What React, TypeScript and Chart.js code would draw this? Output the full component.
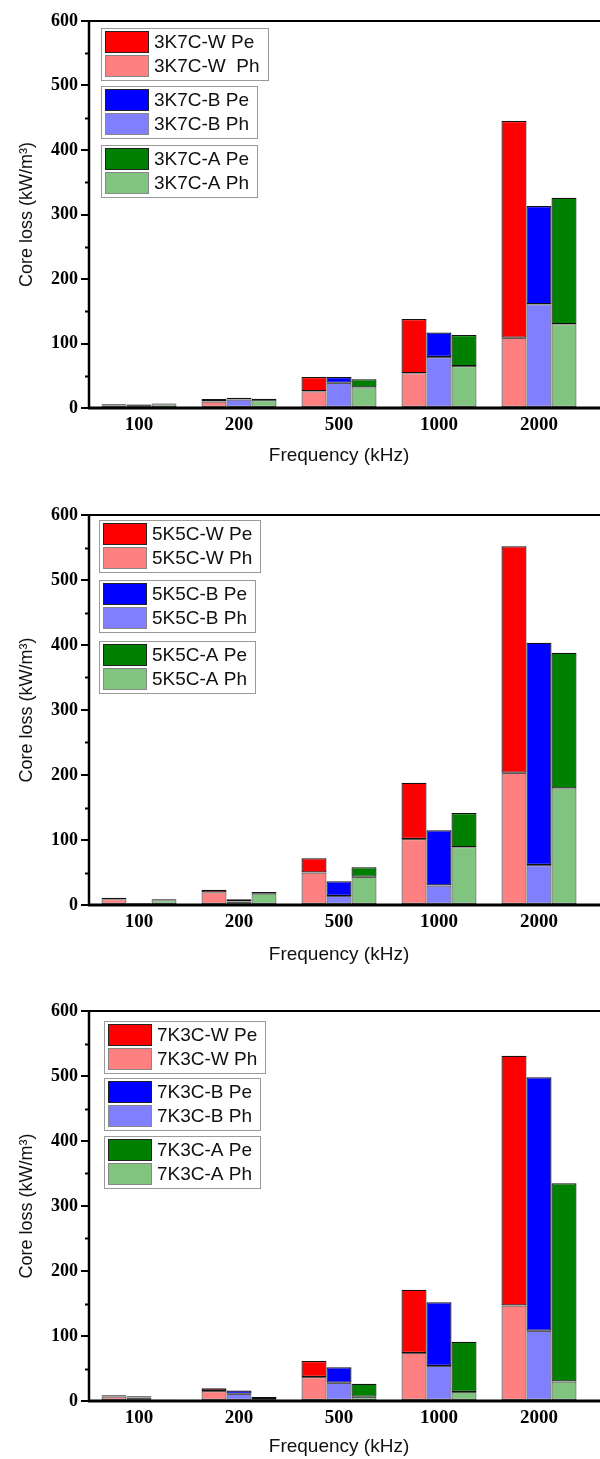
import React, { useEffect, useRef } from 'react';
import { Chart, registerables } from 'chart.js';

Chart.register(...registerables);

// ---------- data ----------
const categories = ['100', '200', '500', '1000', '2000'];
const xTitle = 'Frequency (kHz)';
const yTitle = 'Core loss (kW/m³)';
const yMin = 0;
const yMax = 600;
const yStep = 100;

// Panel 1: 3K7C
const p1Labels = ['3K7C-W Pe', '3K7C-W  Ph', '3K7C-B Pe', '3K7C-B Ph', '3K7C-A Pe', '3K7C-A Ph'];
const p1W_Ph = [4, 10, 26, 54, 109];
const p1W_Pe = [2, 4, 22, 84, 336];
const p1B_Ph = [5, 13, 39, 79, 161];
const p1B_Pe = [1, 3, 9, 38, 152];
const p1A_Ph = [6, 12.5, 32, 65, 130];
const p1A_Pe = [1, 2, 12.5, 48, 196];

// Panel 2: 5K5C
const p2Labels = ['5K5C-W Pe', '5K5C-W Ph', '5K5C-B Pe', '5K5C-B Ph', '5K5C-A Pe', '5K5C-A Ph'];
const p2W_Ph = [9, 19.5, 50, 101.5, 203.5];
const p2W_Pe = [2, 4, 22, 86.5, 348.5];
const p2B_Ph = [2, 5.5, 14, 30, 61.5];
const p2B_Pe = [1, 3.5, 22.5, 85, 342];
const p2A_Ph = [7.5, 17.5, 43.5, 89, 179.5];
const p2A_Pe = [1.5, 2.5, 14.5, 52.5, 208.5];

// Panel 3: 7K3C
const p3Labels = ['7K3C-W Pe', '7K3C-W Ph', '7K3C-B Pe', '7K3C-B Ph', '7K3C-A Pe', '7K3C-A Ph'];
const p3W_Ph = [7, 15.5, 37, 74, 147];
const p3W_Pe = [2, 4, 24.5, 97, 384];
const p3B_Ph = [5.5, 11, 28, 54, 108];
const p3B_Pe = [2, 5, 24, 98, 390];
const p3A_Ph = [1, 3, 6.5, 14, 30];
const p3A_Pe = [1, 3, 20, 77, 305];

// ---------- styles ----------
const COLORS = {
  wPe: '#FF0000', wPh: '#FF8080',
  bPe: '#0000FF', bPh: '#8080FF',
  aPe: '#008000', aPh: '#80C480',
};

const TICK_FONT = 'Liberation Serif';
const SANS = 'Liberation Sans';
const X_TITLE_SIZE = 19;
const LEGEND_SIZE = 19;

type PanelCfg = {
  labels: string[];
  wPh: number[]; wPe: number[];
  bPh: number[]; bPe: number[];
  aPh: number[]; aPe: number[];
  top: number; height: number;
  areaTop: number; areaBottom: number;
  titleCenter: number;
  legendLeft: number;
  legendTops: number[];
};

const panels: PanelCfg[] = [
  {
    labels: p1Labels, wPh: p1W_Ph, wPe: p1W_Pe, bPh: p1B_Ph, bPe: p1B_Pe, aPh: p1A_Ph, aPe: p1A_Pe,
    top: 0, height: 494, areaTop: 21, areaBottom: 408, titleCenter: 456,
    legendLeft: 101, legendTops: [7, 65, 124],
  },
  {
    labels: p2Labels, wPh: p2W_Ph, wPe: p2W_Pe, bPh: p2B_Ph, bPe: p2B_Pe, aPh: p2A_Ph, aPe: p2A_Pe,
    top: 494, height: 494, areaTop: 515, areaBottom: 905, titleCenter: 955,
    legendLeft: 99, legendTops: [5, 65, 126],
  },
  {
    labels: p3Labels, wPh: p3W_Ph, wPe: p3W_Pe, bPh: p3B_Ph, bPe: p3B_Pe, aPh: p3A_Ph, aPe: p3A_Pe,
    top: 988, height: 471, areaTop: 1011, areaBottom: 1401, titleCenter: 1447,
    legendLeft: 104, legendTops: [10, 67, 125],
  },
];

const AREA_LEFT = 89;
const AREA_RIGHT = 589;

function makePlugin(cfg: PanelCfg) {
  return {
    id: 'frameAndLegend',
    afterDraw(chart: any) {
      const { ctx, chartArea: a, scales } = chart;
      const y = scales.y;
      ctx.save();
      ctx.strokeStyle = '#000';
      // frame lines
      ctx.lineWidth = 2;
      ctx.beginPath();
      ctx.moveTo(a.left, a.top);
      ctx.lineTo(chart.width, a.top);
      ctx.stroke();
      ctx.lineWidth = 2.5;
      ctx.beginPath();
      ctx.moveTo(a.left, a.top - 1);
      ctx.lineTo(a.left, a.bottom + 1);
      ctx.stroke();
      ctx.lineWidth = 3;
      ctx.beginPath();
      ctx.moveTo(a.left - 1, a.bottom);
      ctx.lineTo(chart.width, a.bottom);
      ctx.stroke();
      // minor ticks
      ctx.lineWidth = 2;
      for (let v = yMin + yStep / 2; v < yMax; v += yStep) {
        const py = Math.round(y.getPixelForValue(v)) + 0.5;
        ctx.beginPath();
        ctx.moveTo(a.left - 4, py);
        ctx.lineTo(a.left, py);
        ctx.stroke();
      }
      // grouped legend
      const ds = chart.data.datasets;
      const groups = [
        [ds[1], ds[0]],
        [ds[3], ds[2]],
        [ds[5], ds[4]],
      ];
      ctx.font = `${LEGEND_SIZE}px "${SANS}"`;
      ctx.textBaseline = 'middle';
      ctx.textAlign = 'left';
      groups.forEach((g, gi) => {
        const bx = cfg.legendLeft;
        const by = a.top + cfg.legendTops[gi];
        const tw = Math.max(...g.map((d: any) => ctx.measureText(d.label).width));
        const bw = Math.round(53 + tw + 8);
        const bh = 52;
        ctx.strokeStyle = '#9a9a9a';
        ctx.lineWidth = 1;
        ctx.strokeRect(bx + 0.5, by + 0.5, bw, bh);
        g.forEach((d: any, i: number) => {
          const sy = by + 3 + i * 24;
          ctx.fillStyle = d.backgroundColor;
          ctx.fillRect(bx + 4, sy, 44, 22);
          ctx.strokeStyle = i === 0 ? '#222' : '#888';
          ctx.strokeRect(bx + 4.5, sy + 0.5, 43, 21);
          ctx.fillStyle = '#111';
          ctx.fillText(d.label, bx + 53, sy + 12);
        });
      });
      ctx.restore();
    },
  };
}

function Panel({ cfg }: { cfg: PanelCfg }) {
  const ref = useRef<HTMLCanvasElement | null>(null);
  useEffect(() => {
    if (!ref.current) return;
    const relBottom = cfg.areaBottom - cfg.top;
    const xh = Math.min(64, cfg.height - relBottom);
    const padBottom = cfg.height - relBottom - xh;
    const lh = X_TITLE_SIZE * 1.2;
    const titlePadBottom = Math.max(0, xh - (cfg.titleCenter - cfg.areaBottom) - lh / 2);
    const mk = (label: string, data: number[], color: string, stack: string, dark: boolean) => ({
      label,
      data,
      backgroundColor: color,
      borderColor: dark ? '#111' : '#5a5a5a',
      borderWidth: 1.2,
      borderSkipped: false,
      stack,
      barPercentage: 1.0,
      categoryPercentage: 0.75,
    });
    const chart = new Chart(ref.current, {
      type: 'bar',
      data: {
        labels: categories,
        datasets: [
          mk(cfg.labels[1], cfg.wPh, COLORS.wPh, 'W', false),
          mk(cfg.labels[0], cfg.wPe, COLORS.wPe, 'W', true),
          mk(cfg.labels[3], cfg.bPh, COLORS.bPh, 'B', false),
          mk(cfg.labels[2], cfg.bPe, COLORS.bPe, 'B', true),
          mk(cfg.labels[5], cfg.aPh, COLORS.aPh, 'A', false),
          mk(cfg.labels[4], cfg.aPe, COLORS.aPe, 'A', true),
        ],
      },
      options: {
        responsive: false,
        animation: false,
        layout: {
          padding: {
            top: cfg.areaTop - cfg.top,
            left: 0,
            right: 600 - AREA_RIGHT,
            bottom: padBottom,
          },
        },
        plugins: {
          legend: { display: false },
          tooltip: { enabled: false },
        },
        scales: {
          x: {
            stacked: true,
            grid: { display: false, drawTicks: false },
            border: { display: false },
            ticks: {
              color: '#000',
              padding: 6,
              font: { family: TICK_FONT, size: 19, weight: 'bold' },
              maxRotation: 0,
            },
            title: {
              display: true,
              text: xTitle,
              color: '#111',
              font: { family: SANS, size: X_TITLE_SIZE },
              padding: { top: 0, bottom: titlePadBottom },
            },
            afterFit: (s: any) => { s.height = xh; },
          },
          y: {
            stacked: true,
            min: yMin,
            max: yMax,
            ticks: {
              stepSize: yStep,
              color: '#000',
              padding: 3,
              font: { family: TICK_FONT, size: 18, weight: 'bold' },
            },
            grid: {
              display: true,
              drawOnChartArea: false,
              drawTicks: true,
              tickLength: 8,
              color: '#000',
              lineWidth: 2,
            },
            border: { display: false },
            title: {
              display: true,
              text: yTitle,
              color: '#111',
              font: { family: SANS, size: 18 },
              padding: { top: 16, bottom: 0 },
            },
            afterFit: (s: any) => { s.width = AREA_LEFT; },
          },
        },
      },
      plugins: [makePlugin(cfg)],
    } as any);
    return () => chart.destroy();
  }, [cfg]);
  return (
    <canvas
      ref={ref}
      width={600}
      height={cfg.height}
      style={{ position: 'absolute', left: 0, top: cfg.top, width: 600, height: cfg.height }}
    />
  );
}

export default function App() {
  return (
    <div style={{ position: 'absolute', left: 0, top: 0, width: 600, height: 1459, background: '#fff', overflow: 'hidden' }}>
      {panels.map((p, i) => (
        <Panel key={i} cfg={p} />
      ))}
    </div>
  );
}
